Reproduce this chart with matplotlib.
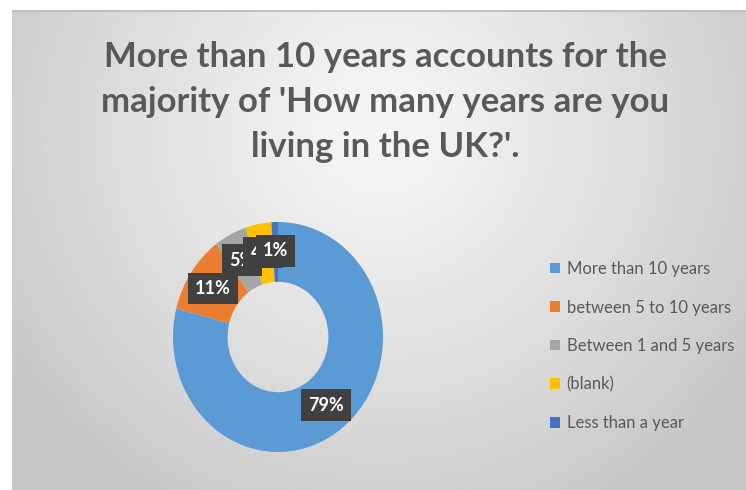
import numpy as np
import matplotlib
matplotlib.use("Agg")
from matplotlib import pyplot as plt

# Data
labels = ["More than 10 years", "between 5 to 10 years", "Between 1 and 5 years",
          "(blank)", "Less than a year"]
shares = [79, 11, 5, 4, 1]
colors = ["#5B9BD5", "#ED7D31", "#A5A5A5", "#FFC000", "#4472C4"]
title = "More than 10 years accounts for the\nmajority of 'How many years are you\nliving in the UK?'."

plt.rcParams["font.family"] = ["Lato", "DejaVu Sans"]

W, H = 746, 490
fig = plt.figure(figsize=(W / 100, H / 100), dpi=100)
fig.patch.set_facecolor("white")

# gradient panel
bg = fig.add_axes([12 / W, 0, 1 - 12 / W, 480 / H])
yy, xx = np.mgrid[0:200, 0:300]
d = np.sqrt(((xx - 150) / 185.0) ** 2 + ((yy - 50) / 185.0) ** 2)
shade = 0.965 - 0.19 * np.clip(d, 0, 1) ** 1.2
bg.imshow(shade, cmap="gray", vmin=0, vmax=1, aspect="auto", interpolation="bilinear")
bg.axhline(0, color="#c0c0c0", lw=1.5)
bg.set_axis_off()

fig.text(385 / W, 1 - 102 / H, title, ha="center", va="center", fontsize=25,
         fontweight="bold", color="#595959", linespacing=1.5)

# donut
cx, cy, rx, ry = 278, 490 - 337, 105, 115
ax = fig.add_axes([(cx - 1.25 * rx) / W, (cy - 1.25 * ry) / H, 2.5 * rx / W, 2.5 * ry / H])
wedges, texts, autotexts = ax.pie(
    shares, colors=colors, startangle=90, counterclock=False,
    autopct="%d%%", pctdistance=0.75,
    wedgeprops=dict(width=0.52, edgecolor="none"),
    textprops=dict(color="white", fontsize=13, fontweight="bold"))
for t in autotexts:
    t.set_bbox(dict(boxstyle="square,pad=0.4", fc="#404040", ec="none"))
ax.set_aspect("auto")
ax.set_xlim(-1.25, 1.25)
ax.set_ylim(-1.25, 1.25)

leg = fig.legend(wedges, labels, loc="upper left", bbox_to_anchor=(535 / W, 1 - 246 / H),
                 frameon=False, fontsize=12, handlelength=0.6, handleheight=0.6,
                 handletextpad=0.4, labelspacing=1.35, labelcolor="#595959")

fig.savefig("out.png", dpi=100)
